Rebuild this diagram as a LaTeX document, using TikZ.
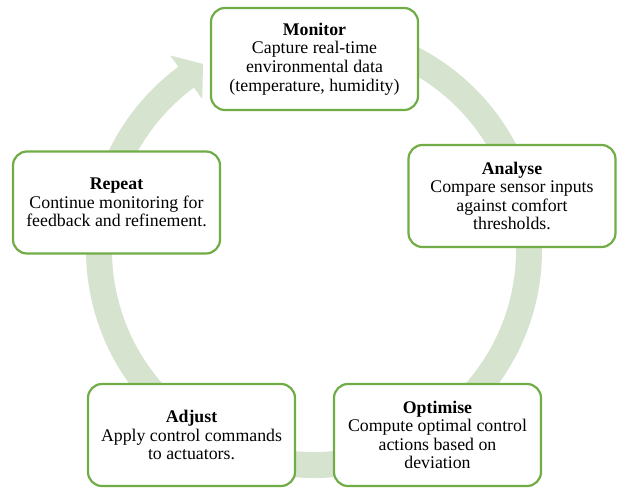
\documentclass[tikz,border=0pt]{standalone}
\usepackage{fontspec}
\setmainfont{Liberation Serif}
\usetikzlibrary{calc}
\definecolor{stepgreen}{RGB}{112,173,71}
\definecolor{ringgreen}{RGB}{214,228,207}
\tikzset{
  stepbox/.style={draw=stepgreen, line width=2.2pt, fill=white,
    rounded corners=14pt, minimum width=207pt, minimum height=102pt,
    inner sep=0pt, align=center, text=black,
    font=\fontsize{17.8pt}{18.6pt}\selectfont},
  ring/.style={draw=ringgreen, line width=26pt, line cap=butt},
  ringhead/.style={fill=ringgreen, draw=none}
}
\begin{document}
\begin{tikzpicture}[x=1pt,y=1pt]
\useasboundingbox (0,0) rectangle (619,488);
\coordinate (c) at (314,238);
% circular cycle arrow behind the steps
\draw[ring] ($(c)+(100:215)$) arc[start angle=100, end angle=-233.8, radius=215];
\fill[ringhead] ($(c)+(126.5:242)$) -- ($(c)+(120.8:216.6)$) -- ($(c)+(126.5:188)$) -- cycle;
% the five steps
\node[stepbox] (monitor) at (314.5,429) {\textbf{Monitor}\\Capture real-time\\environmental data\\(temperature, humidity)};
\node[stepbox] (analyse) at (512,292) {\textbf{Analyse}\\Compare sensor inputs\\against comfort\\thresholds.};
\node[stepbox] (optimise) at (437.5,53) {\textbf{Optimise}\\Compute optimal control\\actions based on\\deviation};
\node[stepbox] (adjust) at (191.5,53) {\textbf{Adjust}\\Apply control commands\\to actuators.};
\node[stepbox] (repeat) at (116.5,285.5) {\textbf{Repeat}\\Continue monitoring for\\feedback and refinement.};
\end{tikzpicture}
\end{document}
